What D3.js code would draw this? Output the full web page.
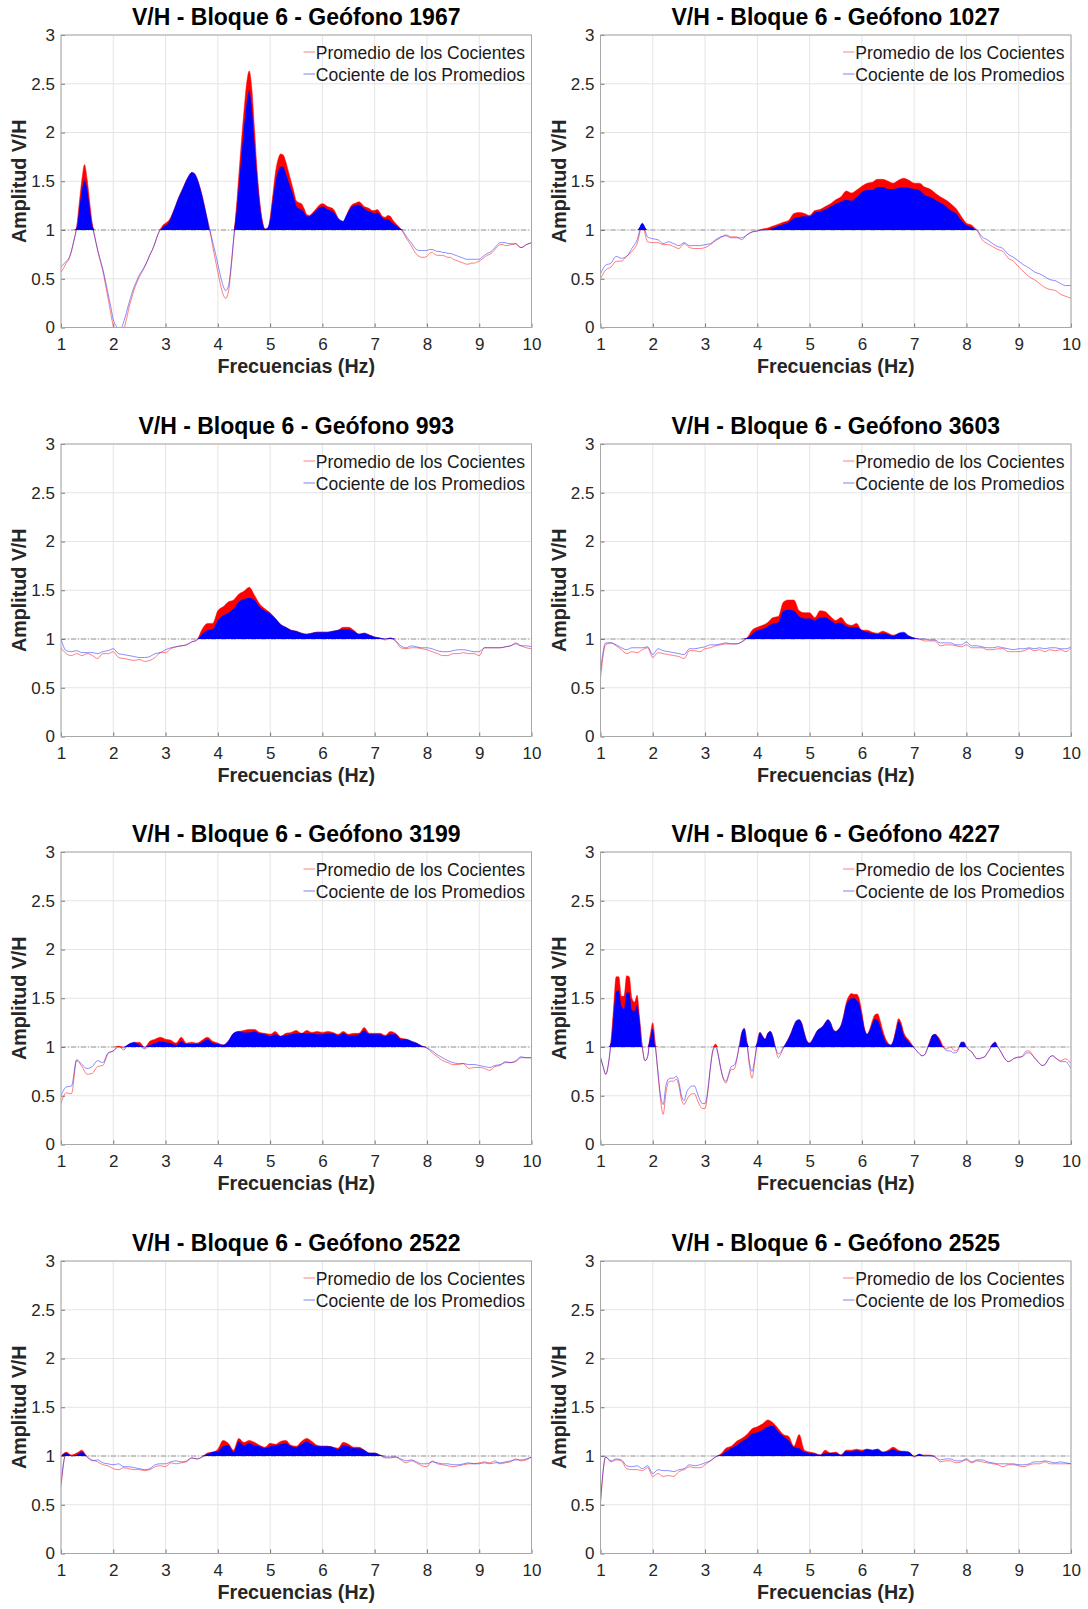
<!DOCTYPE html>
<html><head><meta charset="utf-8">
<script src="https://cdn.jsdelivr.net/npm/d3@7"></script>
<style>
body{margin:0;background:#fff}
svg{display:block}
text{font-family:"Liberation Sans",Arial,Helvetica,sans-serif}
</style>
</head><body>
<svg id="chart" width="1088" height="1609"></svg>
<script>
// ---------- DATA ----------
// Frequency sampling grids (Hz)
const freqFine = d3.range(181).map(i => Math.round((1 + i * 0.05) * 100) / 100);
const freqCoarse = d3.range(91).map(i => Math.round((1 + i * 0.1) * 10) / 10);

const xTicks = [1, 2, 3, 4, 5, 6, 7, 8, 9, 10];
const yTicks = [0, 0.5, 1, 1.5, 2, 2.5, 3];
const seriesNames = ["Promedio de los Cocientes", "Cociente de los Promedios"];
const titles = [
  "V/H - Bloque 6 - Geófono 1967", "V/H - Bloque 6 - Geófono 1027",
  "V/H - Bloque 6 - Geófono 993", "V/H - Bloque 6 - Geófono 3603",
  "V/H - Bloque 6 - Geófono 3199", "V/H - Bloque 6 - Geófono 4227",
  "V/H - Bloque 6 - Geófono 2522", "V/H - Bloque 6 - Geófono 2525"
];
const xLabel = "Frecuencias (Hz)";
const yLabel = "Amplitud V/H";

// pc = Promedio de los Cocientes (red), cp = Cociente de los Promedios (blue)
const pc1967 = [0.57,0.61,0.66,0.70,0.78,0.90,1.03,1.28,1.52,1.67,1.52,1.28,1.06,0.92,0.79,0.68,0.58,0.44,0.30,0.15,
 0.01,-0.08,-0.14,-0.12,-0.03,0.08,0.20,0.30,0.39,0.46,0.52,0.57,0.62,0.68,0.74,0.80,0.87,0.95,1.01,1.05,
 1.07,1.09,1.13,1.19,1.26,1.33,1.39,1.45,1.51,1.56,1.59,1.58,1.53,1.45,1.35,1.23,1.10,0.98,0.84,0.70,
 0.57,0.44,0.34,0.30,0.36,0.58,0.88,1.20,1.55,1.90,2.22,2.50,2.63,2.45,2.05,1.62,1.30,1.10,1.01,1.00,
 1.12,1.35,1.58,1.72,1.78,1.77,1.70,1.60,1.50,1.40,1.30,1.28,1.27,1.22,1.16,1.15,1.17,1.20,1.23,1.26,
 1.27,1.26,1.24,1.23,1.22,1.18,1.12,1.08,1.07,1.13,1.20,1.25,1.27,1.28,1.29,1.27,1.24,1.23,1.22,1.20,
 1.20,1.21,1.18,1.14,1.13,1.15,1.14,1.10,1.07,1.04,1.01,0.97,0.92,0.88,0.84,0.79,0.75,0.73,0.72,0.72,
 0.73,0.76,0.77,0.75,0.74,0.74,0.74,0.73,0.72,0.72,0.70,0.69,0.68,0.67,0.66,0.65,0.65,0.66,0.66,0.67,
 0.68,0.70,0.72,0.74,0.75,0.77,0.80,0.83,0.85,0.85,0.84,0.84,0.85,0.85,0.86,0.83,0.82,0.83,0.85,0.86,
 0.87];
const cp1967 = [0.62,0.65,0.68,0.71,0.79,0.90,1.02,1.22,1.41,1.51,1.42,1.22,1.04,0.92,0.80,0.70,0.60,0.48,0.35,0.22,
 0.08,0.02,-0.02,-0.01,0.06,0.15,0.25,0.34,0.42,0.48,0.54,0.58,0.63,0.68,0.75,0.80,0.87,0.95,1.00,1.03,
 1.05,1.07,1.12,1.19,1.26,1.33,1.39,1.45,1.51,1.56,1.59,1.58,1.53,1.45,1.35,1.23,1.11,1.00,0.88,0.77,
 0.65,0.53,0.43,0.38,0.42,0.62,0.90,1.15,1.45,1.75,2.05,2.30,2.43,2.25,1.90,1.55,1.27,1.08,1.01,1.02,
 1.10,1.30,1.48,1.60,1.65,1.65,1.58,1.50,1.42,1.34,1.25,1.22,1.21,1.18,1.14,1.14,1.16,1.18,1.21,1.23,
 1.24,1.23,1.21,1.20,1.19,1.16,1.12,1.10,1.09,1.14,1.19,1.23,1.25,1.26,1.26,1.24,1.22,1.20,1.19,1.18,
 1.17,1.18,1.16,1.12,1.11,1.11,1.09,1.07,1.05,1.03,1.01,0.98,0.94,0.90,0.87,0.83,0.80,0.79,0.79,0.79,
 0.79,0.80,0.80,0.79,0.78,0.78,0.77,0.77,0.76,0.76,0.75,0.74,0.73,0.72,0.71,0.70,0.70,0.70,0.70,0.70,
 0.70,0.72,0.74,0.76,0.77,0.79,0.82,0.85,0.87,0.87,0.87,0.86,0.86,0.86,0.86,0.84,0.82,0.83,0.85,0.86,
 0.87];

const pc1027 = [0.50,0.59,0.62,0.68,0.68,0.73,0.78,0.86,1.05,0.88,
 0.87,0.87,0.85,0.85,0.83,0.81,0.86,0.82,0.81,0.81,
 0.82,0.85,0.89,0.92,0.95,0.93,0.93,0.90,0.95,0.98,
 0.99,1.01,1.02,1.04,1.06,1.08,1.10,1.17,1.18,1.17,
 1.15,1.20,1.21,1.24,1.27,1.31,1.34,1.40,1.38,1.41,
 1.45,1.48,1.49,1.52,1.52,1.50,1.48,1.51,1.53,1.51,
 1.48,1.48,1.44,1.42,1.38,1.34,1.31,1.27,1.22,1.14,
 1.07,1.05,1.00,0.90,0.86,0.83,0.80,0.78,0.71,0.68,
 0.62,0.57,0.52,0.49,0.45,0.41,0.39,0.38,0.34,0.32,
 0.30];
const cp1027 = [0.55,0.64,0.66,0.73,0.71,0.73,0.81,0.90,1.07,0.93,
 0.91,0.90,0.86,0.88,0.86,0.84,0.87,0.84,0.84,0.84,
 0.85,0.86,0.90,0.93,0.94,0.92,0.92,0.92,0.95,0.98,
 0.99,1.00,1.00,1.02,1.04,1.06,1.08,1.12,1.13,1.14,
 1.14,1.18,1.19,1.21,1.24,1.27,1.29,1.31,1.30,1.34,
 1.39,1.41,1.41,1.44,1.44,1.42,1.42,1.43,1.44,1.43,
 1.42,1.41,1.36,1.34,1.31,1.28,1.25,1.20,1.17,1.10,
 1.05,1.03,1.00,0.93,0.90,0.86,0.83,0.81,0.75,0.72,
 0.68,0.64,0.61,0.57,0.55,0.52,0.49,0.48,0.45,0.43,
 0.43];

const pc993 = [0.91,0.85,0.83,0.85,0.83,0.85,0.83,0.80,0.85,0.85,
 0.87,0.81,0.80,0.79,0.78,0.79,0.77,0.78,0.81,0.86,
 0.86,0.90,0.92,0.93,0.94,0.97,0.99,1.10,1.16,1.16,
 1.29,1.33,1.38,1.40,1.46,1.49,1.53,1.45,1.36,1.31,
 1.27,1.21,1.15,1.12,1.09,1.08,1.06,1.05,1.06,1.07,
 1.07,1.07,1.08,1.09,1.12,1.12,1.09,1.05,1.06,1.04,
 1.02,1.01,0.99,1.01,0.98,0.91,0.90,0.91,0.91,0.90,
 0.89,0.87,0.85,0.83,0.83,0.85,0.85,0.86,0.85,0.85,
 0.83,0.91,0.91,0.91,0.91,0.92,0.93,0.96,0.93,0.91,
 0.90];
const cp993 = [1.00,0.88,0.87,0.88,0.86,0.86,0.86,0.85,0.87,0.88,
 0.90,0.85,0.84,0.83,0.82,0.81,0.81,0.82,0.85,0.86,
 0.89,0.91,0.92,0.93,0.94,0.97,0.99,1.05,1.09,1.10,
 1.19,1.24,1.27,1.31,1.38,1.41,1.42,1.40,1.33,1.29,
 1.26,1.21,1.15,1.12,1.09,1.08,1.06,1.05,1.06,1.07,
 1.07,1.07,1.08,1.09,1.10,1.10,1.08,1.05,1.06,1.04,
 1.02,1.01,1.00,1.01,0.98,0.93,0.91,0.93,0.92,0.91,
 0.91,0.90,0.88,0.87,0.87,0.88,0.89,0.89,0.88,0.87,
 0.87,0.91,0.91,0.91,0.91,0.92,0.93,0.95,0.93,0.93,
 0.92];

const pc3603 = [0.60,0.94,0.96,0.93,0.89,0.85,0.87,0.86,0.89,0.91,
 0.81,0.86,0.85,0.84,0.83,0.82,0.80,0.88,0.88,0.87,
 0.90,0.91,0.93,0.94,0.95,0.95,0.95,0.97,1.01,1.09,
 1.12,1.14,1.17,1.22,1.23,1.38,1.40,1.40,1.29,1.27,
 1.27,1.22,1.29,1.28,1.23,1.19,1.22,1.16,1.14,1.16,
 1.09,1.09,1.07,1.06,1.08,1.06,1.04,1.05,1.05,1.03,
 1.01,1.00,0.98,0.98,0.98,0.93,0.94,0.94,0.93,0.92,
 0.94,0.91,0.91,0.91,0.89,0.89,0.90,0.90,0.87,0.87,
 0.87,0.88,0.90,0.88,0.89,0.87,0.89,0.88,0.89,0.87,
 0.91];
const cp3603 = [0.67,0.96,0.96,0.94,0.91,0.89,0.91,0.91,0.91,0.92,
 0.84,0.90,0.88,0.87,0.86,0.85,0.84,0.90,0.90,0.91,
 0.92,0.94,0.94,0.95,0.96,0.95,0.95,0.97,1.01,1.05,
 1.09,1.10,1.13,1.16,1.17,1.29,1.30,1.29,1.23,1.21,
 1.21,1.19,1.22,1.22,1.19,1.16,1.17,1.13,1.12,1.12,
 1.09,1.07,1.06,1.05,1.06,1.05,1.03,1.06,1.07,1.03,
 1.01,1.00,1.00,0.99,0.99,0.96,0.96,0.96,0.94,0.94,
 0.97,0.93,0.93,0.92,0.91,0.91,0.92,0.91,0.90,0.89,
 0.90,0.90,0.91,0.90,0.91,0.90,0.91,0.91,0.90,0.90,
 0.92];

const pc3199 = [0.42,0.53,0.52,0.86,0.80,0.72,0.73,0.80,0.81,0.93,
 0.96,1.01,0.97,1.03,1.04,1.05,0.99,1.06,1.08,1.10,
 1.08,1.07,1.04,1.10,1.04,1.05,1.04,1.07,1.10,1.06,
 1.04,1.02,1.06,1.14,1.16,1.17,1.18,1.18,1.15,1.14,
 1.13,1.16,1.11,1.14,1.15,1.17,1.14,1.17,1.15,1.16,
 1.15,1.16,1.15,1.13,1.16,1.13,1.14,1.14,1.20,1.14,
 1.14,1.14,1.12,1.16,1.14,1.09,1.08,1.06,1.04,1.01,
 0.99,0.94,0.90,0.86,0.84,0.82,0.82,0.83,0.78,0.79,
 0.79,0.78,0.76,0.80,0.81,0.85,0.84,0.85,0.89,0.89,
 0.89];
const cp3199 = [0.50,0.59,0.60,0.87,0.82,0.78,0.80,0.86,0.84,0.94,
 0.96,1.00,0.99,1.03,1.05,1.02,0.98,1.02,1.04,1.06,
 1.05,1.04,1.02,1.06,1.03,1.03,1.03,1.05,1.08,1.04,
 1.03,1.02,1.06,1.14,1.16,1.15,1.15,1.16,1.14,1.13,
 1.11,1.13,1.11,1.12,1.13,1.14,1.14,1.14,1.14,1.13,
 1.13,1.14,1.14,1.12,1.14,1.12,1.12,1.13,1.17,1.13,
 1.13,1.13,1.11,1.13,1.13,1.08,1.08,1.06,1.04,1.01,
 0.99,0.96,0.92,0.89,0.86,0.84,0.83,0.83,0.82,0.82,
 0.81,0.80,0.79,0.81,0.82,0.84,0.84,0.86,0.90,0.89,
 0.89];

const pc4227 = [0.90,0.80,0.72,0.82,1.05,1.40,1.72,1.72,1.52,1.52,1.73,1.72,1.50,1.46,1.53,1.28,1.00,0.86,0.90,1.12,
 1.25,1.02,0.72,0.45,0.31,0.52,0.64,0.65,0.65,0.67,0.60,0.46,0.41,0.46,0.50,0.52,0.52,0.46,0.40,0.37,
 0.37,0.52,0.78,0.97,1.03,0.93,0.78,0.67,0.63,0.70,0.77,0.77,0.85,1.00,1.14,1.19,1.05,0.80,0.68,0.85,
 1.05,1.15,1.11,1.08,1.14,1.16,1.10,0.98,0.89,0.93,0.99,1.04,1.09,1.15,1.22,1.27,1.28,1.24,1.14,1.06,
 1.04,1.07,1.12,1.17,1.19,1.21,1.25,1.28,1.25,1.18,1.16,1.18,1.22,1.32,1.45,1.52,1.55,1.54,1.54,1.49,
 1.35,1.19,1.13,1.18,1.27,1.33,1.34,1.27,1.17,1.09,1.04,1.02,1.06,1.18,1.29,1.25,1.15,1.10,1.07,1.03,
 0.99,0.96,0.93,0.91,0.92,0.98,1.06,1.12,1.13,1.11,1.07,1.01,0.98,0.99,1.00,0.97,0.96,0.99,1.04,1.05,
 1.00,0.97,0.95,0.91,0.88,0.88,0.89,0.90,0.94,0.98,1.03,1.05,1.00,0.96,0.91,0.87,0.85,0.86,0.88,0.89,
 0.90,0.90,0.93,0.96,0.96,0.93,0.89,0.86,0.83,0.81,0.82,0.86,0.90,0.91,0.89,0.87,0.86,0.87,0.88,0.86,
 0.83];
const cp4227 = [0.89,0.80,0.72,0.82,1.04,1.32,1.57,1.58,1.42,1.39,1.56,1.56,1.38,1.37,1.43,1.25,1.00,0.86,0.90,1.08,
 1.19,1.00,0.74,0.50,0.41,0.60,0.67,0.68,0.68,0.70,0.64,0.50,0.45,0.54,0.58,0.60,0.60,0.53,0.46,0.42,
 0.42,0.55,0.78,0.96,1.00,0.92,0.78,0.68,0.65,0.72,0.80,0.81,0.87,1.00,1.14,1.19,1.05,0.84,0.75,0.88,
 1.05,1.15,1.11,1.08,1.14,1.16,1.10,0.99,0.93,0.95,1.00,1.04,1.09,1.15,1.22,1.27,1.28,1.24,1.14,1.06,
 1.04,1.07,1.12,1.17,1.19,1.21,1.25,1.28,1.25,1.18,1.16,1.18,1.22,1.31,1.43,1.48,1.50,1.50,1.48,1.44,
 1.32,1.18,1.13,1.17,1.24,1.29,1.28,1.21,1.13,1.06,1.03,1.02,1.06,1.16,1.26,1.22,1.12,1.08,1.05,1.02,
 0.99,0.96,0.93,0.91,0.92,0.98,1.05,1.12,1.13,1.10,1.05,1.00,0.97,0.96,0.96,0.94,0.94,0.98,1.05,1.05,
 1.00,0.97,0.95,0.91,0.88,0.88,0.89,0.90,0.94,0.98,1.03,1.05,1.00,0.96,0.91,0.87,0.85,0.86,0.88,0.89,
 0.89,0.90,0.91,0.94,0.94,0.92,0.89,0.86,0.83,0.81,0.82,0.86,0.90,0.91,0.89,0.87,0.85,0.85,0.85,0.82,
 0.78];

const pc2522 = [0.68,1.04,1.01,1.03,1.06,0.99,0.96,0.94,0.91,0.90,
 0.87,0.86,0.88,0.87,0.86,0.86,0.85,0.86,0.89,0.90,
 0.89,0.93,0.92,0.93,0.94,0.98,0.97,0.99,1.03,1.04,
 1.07,1.16,1.13,1.06,1.18,1.14,1.16,1.14,1.11,1.09,
 1.13,1.12,1.15,1.16,1.11,1.10,1.15,1.18,1.15,1.11,
 1.10,1.10,1.09,1.08,1.14,1.12,1.09,1.09,1.06,1.03,
 1.03,1.01,0.98,0.98,0.99,0.96,0.93,0.95,0.93,0.90,
 0.89,0.95,0.92,0.91,0.90,0.89,0.90,0.91,0.92,0.92,
 0.93,0.94,0.93,0.95,0.92,0.93,0.94,0.97,0.95,0.96,
 0.99];
const cp2522 = [0.72,1.03,1.00,1.01,1.04,0.99,0.95,0.96,0.93,0.92,
 0.91,0.92,0.89,0.89,0.88,0.87,0.86,0.87,0.91,0.92,
 0.92,0.94,0.95,0.94,0.95,0.98,0.97,0.99,1.02,1.04,
 1.05,1.10,1.11,1.04,1.15,1.11,1.13,1.11,1.10,1.08,
 1.10,1.11,1.12,1.13,1.10,1.09,1.12,1.15,1.12,1.10,
 1.10,1.10,1.09,1.07,1.11,1.10,1.08,1.08,1.06,1.03,
 1.03,1.01,0.99,0.99,0.99,0.97,0.95,0.96,0.94,0.92,
 0.92,0.94,0.93,0.92,0.92,0.91,0.91,0.92,0.93,0.92,
 0.92,0.93,0.92,0.93,0.93,0.94,0.95,0.96,0.96,0.97,
 0.99];

const pc2525 = [0.50,0.99,0.94,0.96,0.95,0.87,0.86,0.86,0.85,0.88,
 0.79,0.82,0.79,0.80,0.79,0.84,0.86,0.89,0.88,0.88,
 0.91,0.95,0.99,1.02,1.08,1.10,1.15,1.18,1.22,1.28,
 1.30,1.33,1.37,1.34,1.28,1.22,1.20,1.10,1.22,1.06,
 1.04,1.03,1.01,1.06,1.03,1.04,1.01,1.06,1.06,1.07,
 1.06,1.07,1.06,1.07,1.04,1.06,1.09,1.06,1.04,1.04,
 0.99,1.01,1.01,1.01,0.99,0.94,0.95,0.95,0.93,0.94,
 0.96,0.93,0.95,0.94,0.93,0.92,0.91,0.89,0.91,0.91,
 0.90,0.89,0.91,0.92,0.92,0.94,0.92,0.92,0.92,0.92,
 0.92];
const cp2525 = [0.55,0.99,0.95,0.97,0.96,0.90,0.89,0.90,0.87,0.90,
 0.82,0.86,0.85,0.85,0.84,0.86,0.87,0.91,0.90,0.91,
 0.93,0.95,0.99,1.01,1.05,1.08,1.11,1.15,1.18,1.23,
 1.24,1.27,1.30,1.31,1.25,1.20,1.16,1.09,1.08,1.04,
 1.03,1.02,1.01,1.03,1.03,1.03,1.01,1.05,1.05,1.06,
 1.05,1.07,1.06,1.07,1.04,1.05,1.07,1.05,1.05,1.04,
 0.99,1.02,1.00,1.00,0.99,0.96,0.97,0.97,0.95,0.95,
 0.97,0.94,0.96,0.96,0.94,0.93,0.92,0.92,0.92,0.92,
 0.91,0.91,0.92,0.94,0.94,0.95,0.94,0.93,0.94,0.93,
 0.92];

const panels = [
  {title: titles[0], freq: freqFine,   pc: pc1967, cp: cp1967},
  {title: titles[1], freq: freqCoarse, pc: pc1027, cp: cp1027},
  {title: titles[2], freq: freqCoarse, pc: pc993,  cp: cp993},
  {title: titles[3], freq: freqCoarse, pc: pc3603, cp: cp3603},
  {title: titles[4], freq: freqCoarse, pc: pc3199, cp: cp3199},
  {title: titles[5], freq: freqFine,   pc: pc4227, cp: cp4227},
  {title: titles[6], freq: freqCoarse, pc: pc2522, cp: cp2522},
  {title: titles[7], freq: freqCoarse, pc: pc2525, cp: cp2525}
];

// ---------- LAYOUT ----------
const colLeft = [61, 600.5];
const rowTop = [35, 444, 852, 1261];
const W = 470.5, H = 292.5;

const svg = d3.select("#chart");
svg.append("rect").attr("width", 1088).attr("height", 1609).attr("fill", "#fff");
const defs = svg.append("defs");

const x = d3.scaleLinear().domain([1, 10]).range([0, W]);
const y = d3.scaleLinear().domain([0, 3]).range([H, 0]);

panels.forEach((p, i) => {
  const col = i % 2, row = Math.floor(i / 2);
  const g = svg.append("g").attr("transform", `translate(${colLeft[col]},${rowTop[row]})`);

  // grid
  g.append("g").selectAll("line").data(xTicks).join("line")
    .attr("x1", d => x(d)).attr("x2", d => x(d)).attr("y1", 0).attr("y2", H)
    .attr("stroke", "#e4e4e4").attr("stroke-width", 1);
  g.append("g").selectAll("line").data(yTicks).join("line")
    .attr("y1", d => y(d)).attr("y2", d => y(d)).attr("x1", 0).attr("x2", W)
    .attr("stroke", "#e4e4e4").attr("stroke-width", 1);

  const clipId = "clip" + i;
  defs.append("clipPath").attr("id", clipId).append("rect").attr("width", W).attr("height", H);
  const pg = g.append("g").attr("clip-path", `url(#${clipId})`);

  // reference line at 1
  pg.append("line").attr("x1", 0).attr("x2", W).attr("y1", y(1)).attr("y2", y(1))
    .attr("stroke", "#9a9a9a").attr("stroke-width", 1).attr("stroke-dasharray", "5,2,1,2");

  const lineGen = d3.line().x((d, j) => x(p.freq[j])).y(d => y(d)).curve(d3.curveMonotoneX);
  const areaGen = d3.area().x((d, j) => x(p.freq[j])).y0(y(1)).y1(d => y(Math.max(d, 1))).curve(d3.curveMonotoneX);

  pg.append("path").datum(p.pc).attr("d", lineGen).attr("fill", "none")
    .attr("stroke", "#ff0000").attr("stroke-opacity", 0.5).attr("stroke-width", 1);
  pg.append("path").datum(p.cp).attr("d", lineGen).attr("fill", "none")
    .attr("stroke", "#0000ff").attr("stroke-opacity", 0.45).attr("stroke-width", 1);

  pg.append("path").datum(p.pc).attr("d", areaGen).attr("fill", "#ff0000").attr("stroke", "none");
  pg.append("path").datum(p.cp).attr("d", areaGen).attr("fill", "#0000ff").attr("stroke", "none");

  // axes
  const ax = g.append("g").attr("transform", `translate(0,${H})`)
    .call(d3.axisBottom(x).tickValues(xTicks).tickFormat(d => String(d)).tickSizeInner(-4).tickSizeOuter(0).tickPadding(10));
  const ay = g.append("g")
    .call(d3.axisLeft(y).tickValues(yTicks).tickFormat(d => String(d)).tickSizeInner(-4).tickSizeOuter(0).tickPadding(6));
  [ax, ay].forEach(a => {
    a.select(".domain").remove();
    a.selectAll(".tick line").attr("stroke", "#777");
    a.selectAll(".tick text").attr("fill", "#262626").style("font-size", "17px");
  });

  // box
  g.append("rect").attr("width", W).attr("height", H).attr("fill", "none")
    .attr("stroke", "#a8a8a8").attr("stroke-width", 1);

  // title
  g.append("text").attr("x", W / 2).attr("y", -10).attr("text-anchor", "middle")
    .style("font-size", "23px").style("font-weight", "bold").attr("fill", "#000").text(p.title);
  // x label
  g.append("text").attr("x", W / 2).attr("y", H + 45).attr("text-anchor", "middle")
    .style("font-size", "19.7px").style("font-weight", "bold").attr("fill", "#262626").text(xLabel);
  // y label
  g.append("text").attr("transform", "rotate(-90)").attr("x", -H / 2).attr("y", -35)
    .attr("text-anchor", "middle").style("font-size", "19.7px").style("font-weight", "bold")
    .attr("fill", "#262626").text(yLabel);

  // legend
  const legColors = ["#ff8080", "#8080ff"];
  seriesNames.forEach((name, k) => {
    const ly = 17 + k * 22;
    g.append("line").attr("x1", W - 228).attr("x2", W - 216.5).attr("y1", ly).attr("y2", ly)
      .attr("stroke", legColors[k]).attr("stroke-width", 1);
    g.append("text").attr("x", W - 215.7).attr("y", ly + 7).style("font-size", "17.5px")
      .attr("fill", "#1a1a1a").text(name);
  });
});
</script>
</body></html>
